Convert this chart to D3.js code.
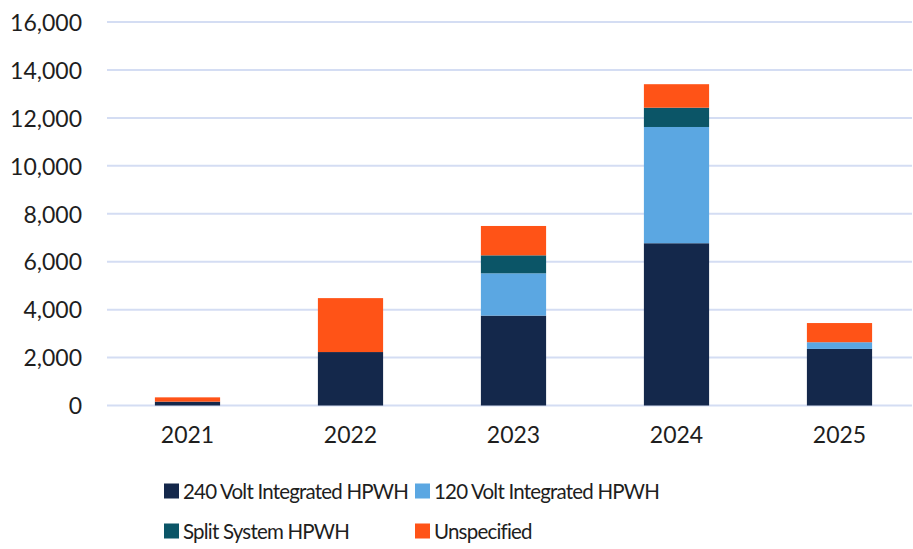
<!DOCTYPE html>
<html>
<head>
<meta charset="utf-8">
<script src="https://cdn.jsdelivr.net/npm/d3@7"></script>
<style>
  body { margin: 0; background: #fff; }
  svg text { font-family: Lato, "Open Sans", sans-serif; fill: #1e1e1e; font-weight: 400; }
</style>
</head>
<body>
<script>
//chart data
var years = ["2021", "2022", "2023", "2024", "2025"];
var series = ["240 Volt Integrated HPWH", "120 Volt Integrated HPWH", "Split System HPWH", "Unspecified"];
var volt240 = [160, 2230, 3750, 6770, 2360];
var volt120 = [0, 0, 1765, 4850, 280];
var splitSystem = [0, 0, 750, 805, 0];
var unspecified = [180, 2250, 1225, 980, 800];
var yTicks = [0, 2000, 4000, 6000, 8000, 10000, 12000, 14000, 16000];
var colors = ["#14284b", "#5ba7e2", "#0b5567", "#ff5317"];

//frame dimensions
var width = 913,
    height = 549;

var svg = d3.select("body")
    .append("svg")
    .attr("width", width)
    .attr("height", height);

//build rows for the stack
var rows = years.map(function(y, i){
    var r = { year: y };
    r[series[0]] = volt240[i];
    r[series[1]] = volt120[i];
    r[series[2]] = splitSystem[i];
    r[series[3]] = unspecified[i];
    return r;
});

var x = d3.scaleBand()
    .domain(years)
    .range([106, 921])
    .padding(0);

var y = d3.scaleLinear()
    .domain([0, 16000])
    .range([405.5, 22]);

//gridlines
svg.selectAll(".grid")
    .data(yTicks)
    .enter()
    .append("line")
    .attr("class", "grid")
    .attr("x1", 107)
    .attr("x2", 912)
    .attr("y1", function(d){ return y(d); })
    .attr("y2", function(d){ return y(d); })
    .attr("stroke", "#d4ddf3")
    .attr("stroke-width", 2);

//y axis labels
var yAxis = d3.axisLeft(y)
    .tickValues(yTicks)
    .tickFormat(d3.format(","))
    .tickSize(0)
    .tickPadding(0);

svg.append("g")
    .attr("transform", "translate(82,0)")
    .call(yAxis)
    .call(function(g){ g.select(".domain").remove(); })
    .selectAll("text")
    .style("font-size", "23px")
    .attr("dy", "0.36em");

//stacked bars
var stack = d3.stack().keys(series);
var layers = stack(rows);
var barW = x.bandwidth() * 0.4;

svg.selectAll(".layer")
    .data(layers)
    .enter()
    .append("g")
    .attr("class", "layer")
    .attr("fill", function(d, i){ return colors[i]; })
    .selectAll("rect")
    .data(function(d){ return d; })
    .enter()
    .append("rect")
    .attr("x", function(d){ return x(d.data.year) + (x.bandwidth() - barW) / 2; })
    .attr("y", function(d){ return y(d[1]); })
    .attr("width", barW)
    .attr("height", function(d){ return y(d[0]) - y(d[1]); });

//x axis labels
var xAxis = d3.axisBottom(x)
    .tickSize(0)
    .tickPadding(0);

svg.append("g")
    .attr("transform", "translate(0,443)")
    .call(xAxis)
    .call(function(g){ g.select(".domain").remove(); })
    .selectAll("text")
    .style("font-size", "23px")
    .attr("dy", "0");

//legend
var legendPos = [[164, 491], [415, 491], [164, 531], [415, 531]];

var legend = svg.selectAll(".legend")
    .data(series)
    .enter()
    .append("g")
    .attr("class", "legend")
    .attr("transform", function(d, i){ return "translate(" + legendPos[i][0] + "," + legendPos[i][1] + ")"; });

legend.append("rect")
    .attr("x", 0)
    .attr("y", -7.5)
    .attr("width", 15)
    .attr("height", 15)
    .attr("fill", function(d, i){ return colors[i]; });

legend.append("text")
    .attr("x", 19)
    .attr("y", 8)
    .style("font-size", "20.5px")
    .style("letter-spacing", "-0.8px")
    .text(function(d){ return d; });
</script>
</body>
</html>
